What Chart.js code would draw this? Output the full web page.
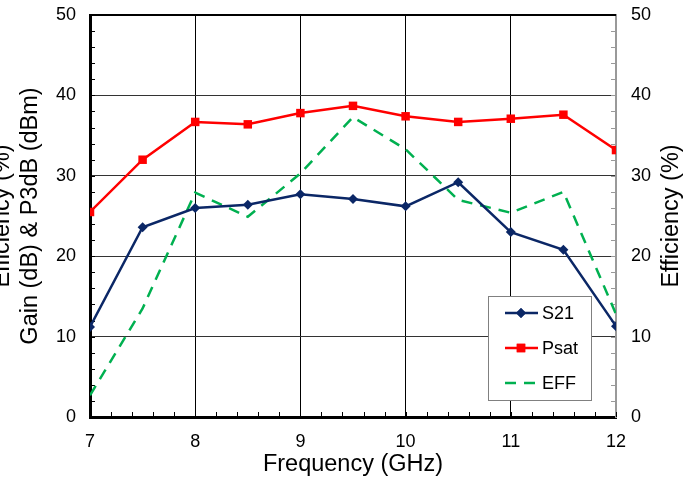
<!DOCTYPE html>
<html>
<head>
<meta charset="utf-8">
<script src="https://cdn.jsdelivr.net/npm/chart.js@4.4.1/dist/chart.umd.min.js"></script>
<style>
  html, body { margin: 0; padding: 0; background: #fff; }
  #wrap { width: 692px; height: 485px; }
</style>
</head>
<body>
<div id="wrap"><canvas id="chart" width="692" height="485"></canvas></div>
<script>
// data
const freq = [7, 7.5, 8, 8.5, 9, 9.5, 10, 10.5, 11, 11.5, 12];
const s21  = [11.2, 23.6, 26.0, 26.4, 27.7, 27.1, 26.2, 29.2, 23.0, 20.8, 11.3];
const psat = [25.5, 32.0, 36.7, 36.4, 37.8, 38.7, 37.4, 36.7, 37.1, 37.6, 33.2];
const eff  = [2.7, 13.5, 27.9, 24.9, 30.3, 37.3, 33.3, 27.0, 25.4, 28.0, 12.8];

const xTicks = [7, 8, 9, 10, 11, 12];
const yTicks = [0, 10, 20, 30, 40, 50];

const FONT = "'Liberation Sans', Arial, sans-serif";

function pts(ys) {
  return freq.map((f, i) => ({ x: f, y: ys[i] }));
}

// frame, minor ticks, axis titles
const extras = {
  id: "extras",
  beforeDatasetsDraw(chart) {
    const { ctx, chartArea: a, scales } = chart;
    ctx.save();
    // top border
    ctx.strokeStyle = "#000";
    ctx.lineWidth = 2;
    ctx.beginPath();
    ctx.moveTo(a.left, a.top);
    ctx.lineTo(a.right, a.top);
    ctx.stroke();
    // minor ticks, inside
    ctx.lineWidth = 1;
    for (let v = 7.2; v < 12; v += 0.2) {
      const x = Math.round(scales.x.getPixelForValue(v)) + 0.5;
      ctx.strokeStyle = "#000";
      ctx.beginPath();
      ctx.moveTo(x, a.bottom);
      ctx.lineTo(x, a.bottom - 5);
      ctx.stroke();
    }
    for (let v = 2; v < 50; v += 2) {
      const y = Math.round(scales.y.getPixelForValue(v)) + 0.5;
      ctx.strokeStyle = "#000";
      ctx.beginPath();
      ctx.moveTo(a.left, y);
      ctx.lineTo(a.left + 5, y);
      ctx.stroke();
      ctx.strokeStyle = "#999";
      ctx.beginPath();
      ctx.moveTo(a.right, y);
      ctx.lineTo(a.right - 5, y);
      ctx.stroke();
    }
    ctx.restore();
  },
  afterDraw(chart) {
    const { ctx, chartArea: a } = chart;
    const cy = (a.top + a.bottom) / 2;
    ctx.save();
    ctx.fillStyle = "#000";
    ctx.font = "23.5px " + FONT;
    ctx.textAlign = "center";
    ctx.textBaseline = "middle";
    // left title, two lines
    ctx.save();
    ctx.translate(3, cy);
    ctx.rotate(-Math.PI / 2);
    ctx.fillText("Efficiency (%)", 0, 0);
    ctx.restore();
    ctx.save();
    ctx.translate(31, cy);
    ctx.rotate(-Math.PI / 2);
    ctx.fillText("Gain (dB) & P3dB (dBm)", 0, 0);
    ctx.restore();
    // right title
    ctx.save();
    ctx.translate(672, cy);
    ctx.rotate(-Math.PI / 2);
    ctx.fillText("Efficiency (%)", 0, 0);
    ctx.restore();
    ctx.restore();
  }
};

// legend box inside the plot
const legendBox = {
  id: "legendBox",
  afterDatasetsDraw(chart) {
    const { ctx } = chart;
    const bx = 488, by = 296, bw = 103, bh = 104;
    ctx.save();
    ctx.fillStyle = "#fff";
    ctx.fillRect(bx, by, bw, bh);
    ctx.strokeStyle = "#808080";
    ctx.lineWidth = 1;
    ctx.strokeRect(bx + 0.5, by + 0.5, bw, bh);
    chart.data.datasets.forEach((ds, i) => {
      const y = by + 17 + i * 35;
      ctx.strokeStyle = ds.borderColor;
      ctx.lineWidth = ds.borderWidth;
      ctx.setLineDash(ds.borderDash || []);
      ctx.beginPath();
      ctx.moveTo(505, y);
      ctx.lineTo(538, y);
      ctx.stroke();
      ctx.setLineDash([]);
      if (ds.pointRadius > 0) {
        ctx.fillStyle = ds.pointBackgroundColor;
        Chart.helpers.drawPoint(ctx, { pointStyle: ds.pointStyle, radius: ds.pointRadius, borderWidth: 0 }, 521, y);
        ctx.fill();
      }
      ctx.fillStyle = "#000";
      ctx.font = "18px " + FONT;
      ctx.textAlign = "left";
      ctx.textBaseline = "middle";
      ctx.fillText(ds.label, 542, y + 1);
    });
    ctx.restore();
  }
};

function fitY(w) {
  return s => {
    s.width = w;
    s.paddingTop = 0;
    s.paddingBottom = 0;
  };
}

new Chart(document.getElementById("chart"), {
  type: "line",
  data: {
    datasets: [
      {
        label: "S21",
        data: pts(s21),
        yAxisID: "y",
        borderColor: "#0b2766",
        backgroundColor: "#0b2766",
        pointBackgroundColor: "#0b2766",
        borderWidth: 2.5,
        pointStyle: "rectRot",
        pointRadius: 5,
        pointBorderWidth: 0
      },
      {
        label: "Psat",
        data: pts(psat),
        yAxisID: "y",
        borderColor: "#ff0000",
        backgroundColor: "#ff0000",
        pointBackgroundColor: "#ff0000",
        borderWidth: 2.5,
        pointStyle: "rect",
        pointRadius: 6,
        pointBorderWidth: 0
      },
      {
        label: "EFF",
        data: pts(eff),
        yAxisID: "y1",
        borderColor: "#00b050",
        backgroundColor: "#00b050",
        pointBackgroundColor: "#00b050",
        borderWidth: 2.5,
        borderDash: [11, 8],
        pointRadius: 0
      }
    ]
  },
  options: {
    responsive: false,
    animation: false,
    devicePixelRatio: 1,
    layout: { padding: { top: 15, left: 0, right: 0, bottom: 0 } },
    plugins: { legend: { display: false }, tooltip: { enabled: false } },
    elements: { line: { tension: 0 } },
    scales: {
      x: {
        type: "linear",
        min: 7,
        max: 12,
        afterFit: s => { s.height = 68; s.paddingLeft = 0; s.paddingRight = 0; },
        afterBuildTicks: s => { s.ticks = xTicks.map(v => ({ value: v })); },
        ticks: { color: "#000", font: { family: FONT, size: 18 }, padding: 14 },
        grid: { color: "#000", lineWidth: 1, drawTicks: false },
        border: { color: "#000", width: 3 },
        title: { display: true, text: "Frequency (GHz)", color: "#000", font: { family: FONT, size: 23.5 }, padding: { top: 0, bottom: 6 } }
      },
      y: {
        position: "left",
        min: 0,
        max: 50,
        afterFit: fitY(90),
        afterBuildTicks: s => { s.ticks = yTicks.map(v => ({ value: v })); },
        ticks: { color: "#000", font: { family: FONT, size: 18 }, padding: 14 },
        grid: { color: "#333", lineWidth: 1, drawTicks: false },
        border: { color: "#000", width: 3 }
      },
      y1: {
        position: "right",
        min: 0,
        max: 50,
        afterFit: fitY(76),
        afterBuildTicks: s => { s.ticks = yTicks.map(v => ({ value: v })); },
        ticks: { color: "#000", font: { family: FONT, size: 18 }, padding: 15 },
        grid: { display: false, drawTicks: false },
        border: { color: "#999", width: 2 }
      }
    }
  },
  plugins: [extras, legendBox]
});
</script>
</body>
</html>
